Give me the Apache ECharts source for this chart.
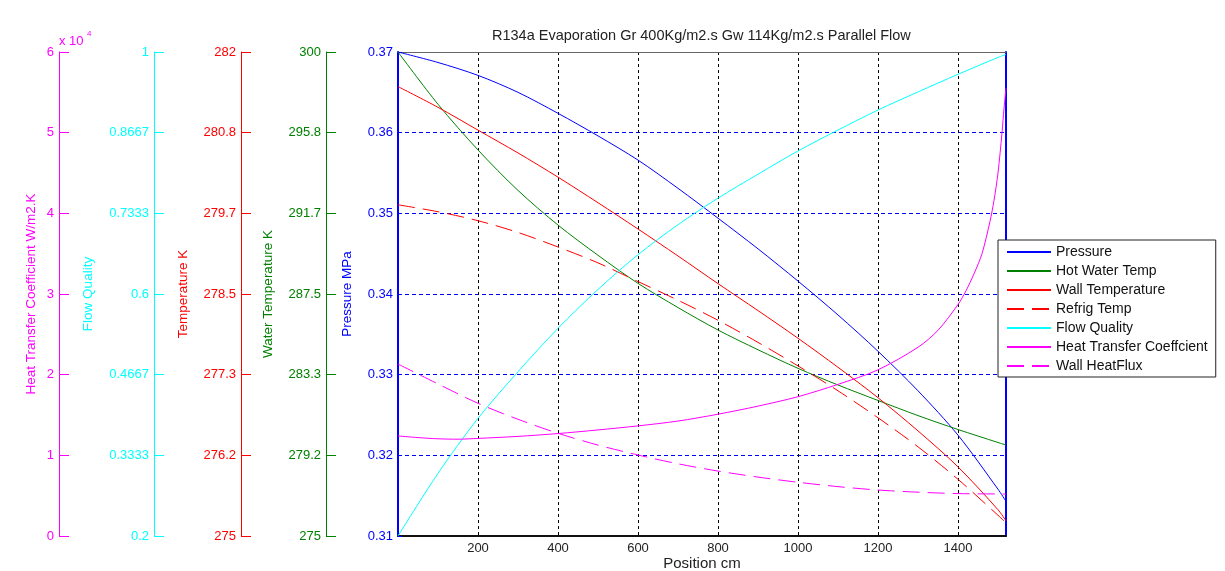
<!DOCTYPE html>
<html>
<head>
<meta charset="utf-8">
<script src="https://cdn.jsdelivr.net/npm/echarts@6/dist/echarts.min.js"></script>
<style>
html,body{margin:0;padding:0;background:#fff;}
#chart{width:1225px;height:571px;}
</style>
</head>
<body>
<div id="chart"></div>
<script>
// ---- data ----
const titleText = 'R134a Evaporation Gr 400Kg/m2.s Gw 114Kg/m2.s Parallel Flow';
const positions = [0,100,200,300,400,500,600,700,800,900,1000,1100,1200,1300,1400,1500,1520];
const pressure   = [0.3700,0.3687,0.3671,0.3650,0.3624,0.3596,0.3566,0.3531,0.3494,0.3456,0.3416,0.3374,0.3329,0.3280,0.3225,0.3158,0.3143];
const hotWater   = [300,297.3,294.94,292.85,291.06,289.5,288.05,286.8,285.64,284.62,283.66,282.8,282.0,281.22,280.5,279.83,279.7];
const wallTemp   = [281.5,281.2,280.87,280.54,280.19,279.82,279.44,279.05,278.65,278.26,277.86,277.44,277.0,276.52,276.0,275.38,275.22];
const refrigTemp = [279.79,279.69,279.56,279.39,279.18,278.95,278.68,278.41,278.12,277.8,277.46,277.1,276.71,276.29,275.82,275.3,275.19];
const flowQuality= [0.2,0.3036,0.3945,0.4715,0.5433,0.6075,0.665,0.7145,0.7584,0.798,0.8364,0.871,0.9041,0.934,0.9631,0.991,0.996];
const wallHeatFlux=[21320,18850,16450,14470,12730,11270,10040,8950,8050,7300,6660,6120,5700,5430,5260,5210,5200];
const htcPositions = [0,50,100,150,200,300,400,500,600,700,800,900,1000,1100,1200,1300,1350,1400,1420,1440,1460,1480,1490,1500,1510,1515,1520];
const htc = [12400,12200,12050,12000,12100,12350,12700,13150,13650,14250,15100,16100,17270,18800,20600,23400,25500,28700,30400,32500,35000,39000,41600,45000,50000,53000,55500];

const seriesNames = ['Pressure','Hot Water Temp','Wall Temperature','Refrig Temp','Flow Quality','Heat Transfer Coeffcient','Wall HeatFlux'];

// tick values of the stacked y axes and the x axis
const pressureTicks = [0.31,0.32,0.33,0.34,0.35,0.36,0.37];
const waterTicks = [275,279.1667,283.3333,287.5,291.6667,295.8333,300];
const tempTicks  = [275,276.1667,277.3333,278.5,279.6667,280.8333,282];
const qualityTicks = [0.2,0.3333,0.4667,0.6,0.7333,0.8667,1];
const htcTicks = [0,10000,20000,30000,40000,50000,60000];
const xTicks = [200,400,600,800,1000,1200,1400];

// ---- chart ----
const FONT = 'Liberation Sans, Arial, sans-serif';
const BLUE = '#0000ff', GREEN = '#008000', RED = '#ff0000', CYAN = '#00ffff', MAG = '#ff00ff';
const DASH = [17,8];

function pairs(xs, ys){ return xs.map((x,i)=>[x, ys[i]]); }

function sideAxis(color, offset, min, max, ticks, fmt, name, nameGap, tickLen){
  return {
    type:'value', position:'left', offset:offset, min:min, max:max,
    axisLine:{show:true, onZero:false, lineStyle:{color:color, width:1}},
    axisTick:{show:true, inside:true, length:tickLen, customValues:ticks, lineStyle:{color:color}},
    axisLabel:{show:true, customValues:ticks, color:color, fontSize:13, fontFamily:FONT, margin:5, formatter:fmt},
    splitLine:{show:false},
    name:name, nameLocation:'middle', nameGap:nameGap, nameRotate:90,
    nameTextStyle:{color:color, fontSize:13.5, fontFamily:FONT}
  };
}

function lineSeries(i, yAxisIndex, xs, ys, color, dashed){
  return {name:seriesNames[i], type:'line', yAxisIndex:yAxisIndex, data:pairs(xs, ys),
    symbol:'none', smooth:0.3,
    lineStyle:{color:color, width:1, type: dashed ? DASH : 'solid'}, itemStyle:{color:color}};
}

const chart = echarts.init(document.getElementById('chart'), null, {renderer:'canvas'});
const option = {
  animation:false,
  backgroundColor:'#fff',
  title:{text:titleText, left:492, top:28, padding:0,
    textStyle:{fontSize:14.5, fontWeight:'normal', color:'#222', fontFamily:FONT}},
  grid:{left:398, right:219, top:52, bottom:35, containLabel:false, outerBoundsMode:'none'},
  legend:{
    orient:'vertical', left:998, top:240, itemWidth:44, itemHeight:14, itemGap:5,
    padding:[5,8,4,8], backgroundColor:'#fff', borderColor:'#222', borderWidth:1,
    itemStyle:{opacity:0},
    textStyle:{fontSize:14, color:'#111', fontFamily:FONT},
    data:seriesNames
  },
  xAxis:[{
    type:'value', min:0, max:1520, interval:200, position:'bottom',
    axisLine:{show:true, onZero:false, lineStyle:{color:'#111', width:2}},
    axisTick:{show:false},
    axisLabel:{customValues:xTicks, color:'#222', fontSize:13, fontFamily:FONT, margin:6, formatter:v=>String(v)},
    splitLine:{show:true, lineStyle:{color:'#000', type:[3,3], width:1}},
    name:'Position cm', nameLocation:'middle', nameGap:20, nameMoveOverlap:false,
    nameTextStyle:{color:'#222', fontSize:15, fontFamily:FONT}
  },{
    type:'value', min:0, max:1520, position:'top',
    axisLine:{show:true, onZero:false, lineStyle:{color:'#666', width:1}},
    axisTick:{show:false}, axisLabel:{show:false}, splitLine:{show:false}
  }],
  yAxis:[
    Object.assign(sideAxis(BLUE, 0, 0.31, 0.37, pressureTicks, v=>v.toFixed(2), 'Pressure MPa', 44, 4), {
      splitLine:{show:true, lineStyle:{color:BLUE, type:[4,3], width:1}},
      axisLine:{show:true, onZero:false, lineStyle:{color:BLUE, width:2}}
    }),
    sideAxis(GREEN, 72, 275, 300, waterTicks, v=>String(+v.toFixed(1)), 'Water Temperature K', 51, 10),
    sideAxis(RED, 157, 275, 282, tempTicks, v=>String(+v.toFixed(1)), 'Temperature K', 51, 10),
    sideAxis(CYAN, 244, 0.2, 1, qualityTicks, v=>String(+v.toFixed(4)), 'Flow Quality', 59, 10),
    sideAxis(MAG, 339, 0, 60000, htcTicks, v=>String(Math.round(v/10000)), 'Heat Transfer Coefficient W/m2.K', 21, 10),
    {type:'value', position:'right', min:0.31, max:0.37,
      axisLine:{show:true, onZero:false, lineStyle:{color:BLUE, width:2}},
      axisTick:{show:false}, axisLabel:{show:false}, splitLine:{show:false}}
  ],
  graphic:[
    {type:'text', left:59, top:35, style:{text:'x 10', fill:MAG, fontSize:13, fontFamily:FONT}},
    {type:'text', left:87, top:30, style:{text:'4', fill:MAG, fontSize:8, fontFamily:FONT}}
  ],
  series:[
    lineSeries(0, 0, positions, pressure, BLUE, false),
    lineSeries(1, 1, positions, hotWater, GREEN, false),
    lineSeries(2, 2, positions, wallTemp, RED, false),
    lineSeries(3, 2, positions, refrigTemp, RED, true),
    lineSeries(4, 3, positions, flowQuality, CYAN, false),
    lineSeries(5, 4, htcPositions, htc, MAG, false),
    lineSeries(6, 4, positions, wallHeatFlux, MAG, true)
  ]
};
chart.setOption(option);
</script>
</body>
</html>
